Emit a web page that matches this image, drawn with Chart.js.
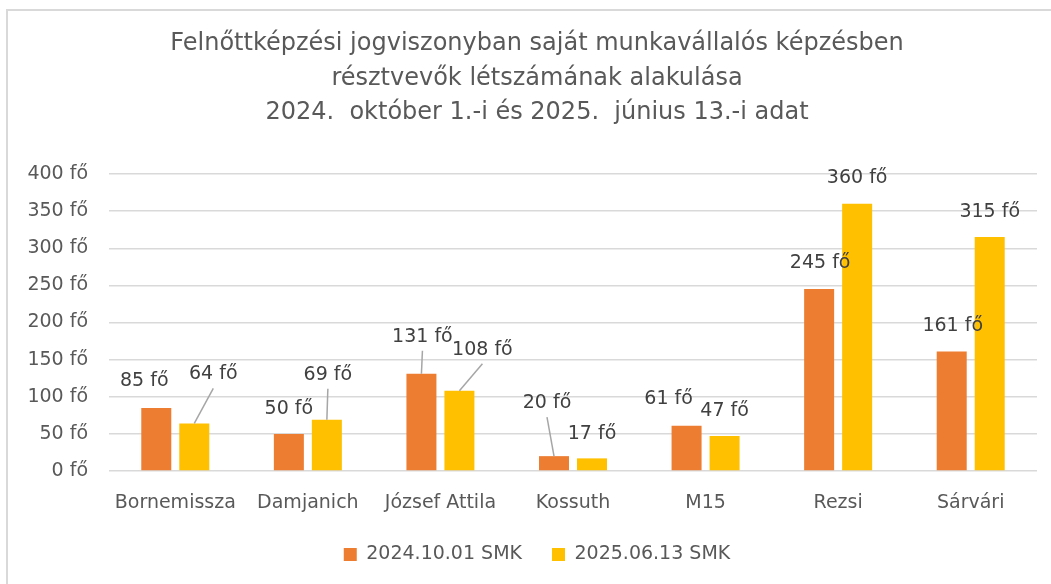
<!DOCTYPE html>
<html><head><meta charset="utf-8">
<script src="https://cdn.jsdelivr.net/npm/chart.js@4.4.1/dist/chart.umd.min.js"></script>
<style>
html,body{margin:0;padding:0;background:#fff;overflow:hidden;width:1051px;height:584px;}
#frame{position:absolute;left:6px;top:9px;width:1100px;height:700px;border-left:2px solid #d9d9d9;border-top:2px solid #d9d9d9;box-sizing:border-box;}
#wrap{position:absolute;left:0;top:0;width:1051px;height:584px;}
</style></head><body>
<div id="frame"></div>
<div id="wrap"><canvas id="c" width="1051" height="584"></canvas></div>
<script>
const categories = ['Bornemissza','Damjanich','József Attila','Kossuth','M15','Rezsi','Sárvári'];
const seriesNames = ['2024.10.01 SMK','2025.06.13 SMK'];
const values2024 = [85, 50, 131, 20, 61, 245, 161];
const values2025 = [64, 69, 108, 17, 47, 360, 315];
const yTicks = [0, 50, 100, 150, 200, 250, 300, 350, 400];
const unit = ' fő';
const titleLines = [
  'Felnőttképzési jogviszonyban saját munkavállalós képzésben',
  'résztvevők létszámának alakulása',
  '2024.  október 1.-i és 2025.  június 13.-i adat'
];

// label placement (style only): offset from bar top centre, and leader-line flags
const labelOffsets2024 = [[-12,-27],[0,-25],[1,-37],[-7,-53],[-18,-27],[1,-26],[1,-25]];
const labelOffsets2025 = [[19,-49],[1,-45],[23,-41],[0,-24],[0,-25],[0,-26],[0,-25]];
const leaders2024 = [false,false,true,true,false,false,false];
const leaders2025 = [true,true,true,false,false,false,false];

const FONT = "'DejaVu Sans', sans-serif";
const FS = 19;
Chart.defaults.font.family = FONT;
Chart.defaults.color = '#595959';

// widest y tick label, for right-aligning labels at a fixed gap from the plot
const mctx = document.createElement('canvas').getContext('2d');
mctx.font = FS + 'px ' + FONT;
const widestTick = Math.max(...yTicks.map(v => mctx.measureText(v + unit).width));

const labelPlugin = {
  id: 'barLabels',
  afterDatasetsDraw(chart) {
    const ctx = chart.ctx;
    ctx.save();
    ctx.font = FS + 'px ' + FONT;
    ctx.textAlign = 'center';
    ctx.textBaseline = 'middle';
    chart.data.datasets.forEach((ds, di) => {
      const meta = chart.getDatasetMeta(di);
      const offs = di === 0 ? labelOffsets2024 : labelOffsets2025;
      const lead = di === 0 ? leaders2024 : leaders2025;
      meta.data.forEach((bar, i) => {
        const lx = bar.x + offs[i][0];
        const ly = bar.y + offs[i][1];
        if (lead[i]) {
          ctx.beginPath();
          ctx.strokeStyle = '#a6a6a6';
          ctx.lineWidth = 1.5;
          ctx.moveTo(bar.x, bar.y);
          ctx.lineTo(lx, ly + 14);
          ctx.stroke();
        }
        ctx.fillStyle = '#404040';
        ctx.fillText(ds.data[i] + unit, lx, ly);
      });
    });
    ctx.restore();
  }
};

new Chart(document.getElementById('c'), {
  type: 'bar',
  data: {
    labels: categories,
    datasets: [
      { label: seriesNames[0], data: values2024, backgroundColor: '#ED7D31' },
      { label: seriesNames[1], data: values2025, backgroundColor: '#FFC000' }
    ]
  },
  options: {
    responsive: false,
    animation: false,
    devicePixelRatio: 1,
    categoryPercentage: 0.5733,
    barPercentage: 0.7895,
    layout: { padding: { left: 37, right: 14, top: 0, bottom: 10 } },
    plugins: {
      title: {
        display: true,
        text: titleLines,
        color: '#595959',
        font: { size: 24, weight: 'normal', lineHeight: 1.4375 },
        padding: { top: 27, bottom: 43.5 }
      },
      legend: {
        position: 'bottom',
        labels: {
          boxWidth: 13, boxHeight: 13, padding: 30,
          color: '#595959',
          font: { size: FS }
        }
      },
      tooltip: { enabled: false }
    },
    scales: {
      x: {
        afterFit: (s) => { s.height = 44; },
        grid: { display: false, drawTicks: false },
        border: { display: false },
        ticks: { padding: 21, color: '#595959', font: { size: FS } }
      },
      y: {
        min: 0, max: 400,
        afterBuildTicks: (s) => { s.ticks = yTicks.map(v => ({ value: v })); },
        afterFit: (s) => { s.width = 72; },
        grid: { color: '#d9d9d9', lineWidth: 1.5, drawTicks: false },
        border: { display: false },
        ticks: { mirror: true, crossAlign: 'far', padding: -(21 + widestTick),
                 color: '#595959', font: { size: FS },
                 callback: (v) => v + unit }
      }
    }
  },
  plugins: [labelPlugin]
});
</script>
</body></html>
